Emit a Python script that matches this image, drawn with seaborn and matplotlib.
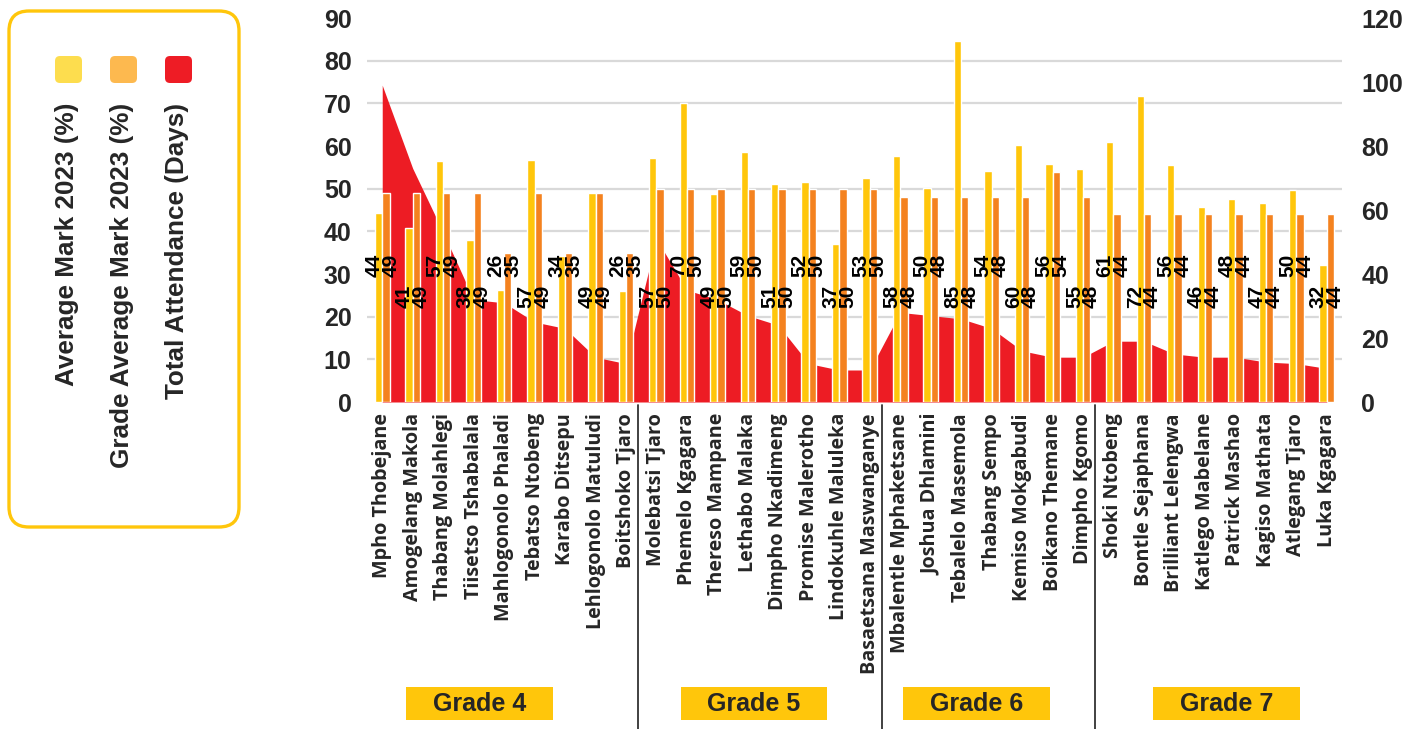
import numpy as np
import pandas as pd
import matplotlib.pyplot as plt
import seaborn as sns
from matplotlib.patches import FancyBboxPatch, Rectangle
from matplotlib.lines import Line2D
from matplotlib.transforms import blended_transform_factory

# --- data ---
students = [
    'Mpho Thobejane', 'Amogelang Makola', 'Thabang Molahlegi', 'Tiisetso Tshabalala',
    'Mahlogonolo Phaladi', 'Tebatso Ntobeng', 'Karabo Ditsepu', 'Lehlogonolo Matuludi',
    'Boitshoko Tjaro',
    'Molebatsi Tjaro', 'Phemelo Kgagara', 'Thereso Mampane', 'Lethabo Malaka',
    'Dimpho Nkadimeng', 'Promise Malerotho', 'Lindokuhle Maluleka', 'Basaetsana Maswanganye',
    'Mbalentle Mphaketsane', 'Joshua Dhlamini', 'Tebalelo Masemola', 'Thabang Sempo',
    'Kemiso Mokgabudi', 'Boikano Themane', 'Dimpho Kgomo',
    'Shoki Ntobeng', 'Bontle Sejaphana', 'Brilliant Lelengwa', 'Katlego Mabelane',
    'Patrick Mashao', 'Kagiso Mathata', 'Atlegang Tjaro', 'Luka Kgagara',
]
grade_names = ['Grade 4', 'Grade 5', 'Grade 6', 'Grade 7']
grade_sizes = [9, 8, 7, 8]

avg_mark = [44.2, 40.8, 56.6, 38.0, 26.2, 56.7, 34.2, 48.9, 26.1,
            57.1, 70.1, 48.7, 58.6, 51.1, 51.6, 37.0, 52.6,
            57.6, 50.1, 84.6, 54.2, 60.2, 55.8, 54.6,
            60.9, 71.7, 55.6, 45.8, 47.6, 46.6, 49.6, 32.1]
grade_avg = [49, 49, 49, 49, 35, 49, 35, 49, 35,
             50, 50, 50, 50, 50, 50, 50, 50,
             48, 48, 48, 48, 48, 54, 48,
             44, 44, 44, 44, 44, 44, 44, 44]
attendance = [99, 73, 53, 32, 31, 25, 23, 14, 12,
              51, 35, 32, 27, 24, 12, 10, 10,
              28, 27, 26, 23, 16, 14, 14,
              19, 19, 15, 14, 14, 12.5, 12, 10.5]

series_names = ['Average Mark 2023 (%)', 'Grade Average Mark 2023 (%)', 'Total Attendance (Days)']

YELLOW = '#FFC60B'
ORANGE = '#F4821F'
RED = '#ED1C24'
GRID = '#D9D9D9'

sns.set_theme(style='white')
plt.rcParams['font.family'] = ['Liberation Sans', 'DejaVu Sans']
plt.rcParams['font.weight'] = 'bold'

n = len(students)
df = pd.DataFrame({
    'student': students * 2,
    'series': [series_names[0]] * n + [series_names[1]] * n,
    'value': avg_mark + grade_avg,
})

fig = plt.figure(figsize=(14.21, 7.29), dpi=100)
ax = fig.add_axes([367 / 1421, 1 - 402 / 729, 975 / 1421, 384 / 729])
ax2 = ax.twinx()
ax.set_zorder(ax2.get_zorder() + 1)
ax.patch.set_visible(False)

# attendance area on the right axis, behind the bars
ax2.fill_between(range(n), attendance, color=RED, lw=0)
ax2.set_ylim(0, 120)
ax2.set_yticks(range(0, 121, 20))
ax2.set_yticks(np.linspace(0, 120, 10), minor=True)
ax2.grid(which='minor', color=GRID, lw=1.6)
ax2.grid(which='major', visible=False)
ax2.tick_params(axis='y', which='both', length=0, labelsize=18, pad=14)

# marks as grouped bars on the left axis
sns.barplot(data=df, x='student', y='value', hue='series', palette=[YELLOW, ORANGE],
            width=0.48, saturation=1, ax=ax, legend=False)
ax.set_xlim(-0.5, n - 0.5)
ax.set_ylim(0, 90)
ax.set_yticks(range(0, 91, 10))
ax.set_xlabel('')
ax.set_ylabel('')
ax.tick_params(axis='y', length=0, labelsize=18, pad=11)
ax.tick_params(axis='x', length=0, pad=8)
ax.set_xticks(range(n))
ax.set_xticklabels(students, rotation=90, fontfamily='Open Sans', fontweight='bold', fontsize=14.2)
for a in (ax, ax2):
    for s in a.spines.values():
        s.set_visible(False)

# value labels, staggered
for i in range(n):
    y = 32.1 if i % 2 == 0 else 24.8
    ax.text(i - 0.28, y, f'{round(avg_mark[i])}', rotation=90, ha='center', va='center',
            fontsize=15, fontweight='bold', color='black')
    ax.text(i + 0.28, y, f'{round(grade_avg[i])}', rotation=90, ha='center', va='center',
            fontsize=15, fontweight='bold', color='black')

# grade separators and grade boxes under the axis
trans = blended_transform_factory(ax.transData, fig.transFigure)
bounds = np.cumsum(grade_sizes)[:-1] - 0.6
for b in bounds:
    fig.add_artist(Line2D([b, b], [0, 1 - 405 / 729], transform=trans, color='#333333', lw=1.3))
label_x = [3.2, 12.2, 19.5, 27.7]
for cx, name in zip(label_x, grade_names):
    fig.add_artist(Rectangle((cx - 2.41, 1 - 720 / 729), 4.82, 33 / 729, transform=trans,
                             facecolor=YELLOW, edgecolor='none'))
    fig.text(0, 1 - 704 / 729, name, transform=trans, fontsize=18, fontweight='bold',
             ha='center', va='center').set_x(cx)

# legend panel on the left
fig.add_artist(FancyBboxPatch((0.09, 2.02), 2.30, 5.16, boxstyle='round,pad=0,rounding_size=0.2',
                              transform=fig.dpi_scale_trans, facecolor='white',
                              edgecolor=YELLOW, lw=2.4))
swatch_cols = ['#FDDD4E', '#FDB94F', '#EE1C25']
swatch_x = [55, 110, 165]
for sx, col, name in zip(swatch_x, swatch_cols, series_names):
    fig.add_artist(FancyBboxPatch((sx / 100, (729 - 83) / 100), 0.27, 0.27,
                                  boxstyle='round,pad=0,rounding_size=0.05',
                                  transform=fig.dpi_scale_trans, facecolor=col, edgecolor='none'))
    fig.text((sx + 12) / 1421, 1 - 103 / 729, name, rotation=90, ha='center', va='top',
             fontsize=18.8, fontweight='bold')

fig.savefig('out.png', dpi=100, facecolor='white')
